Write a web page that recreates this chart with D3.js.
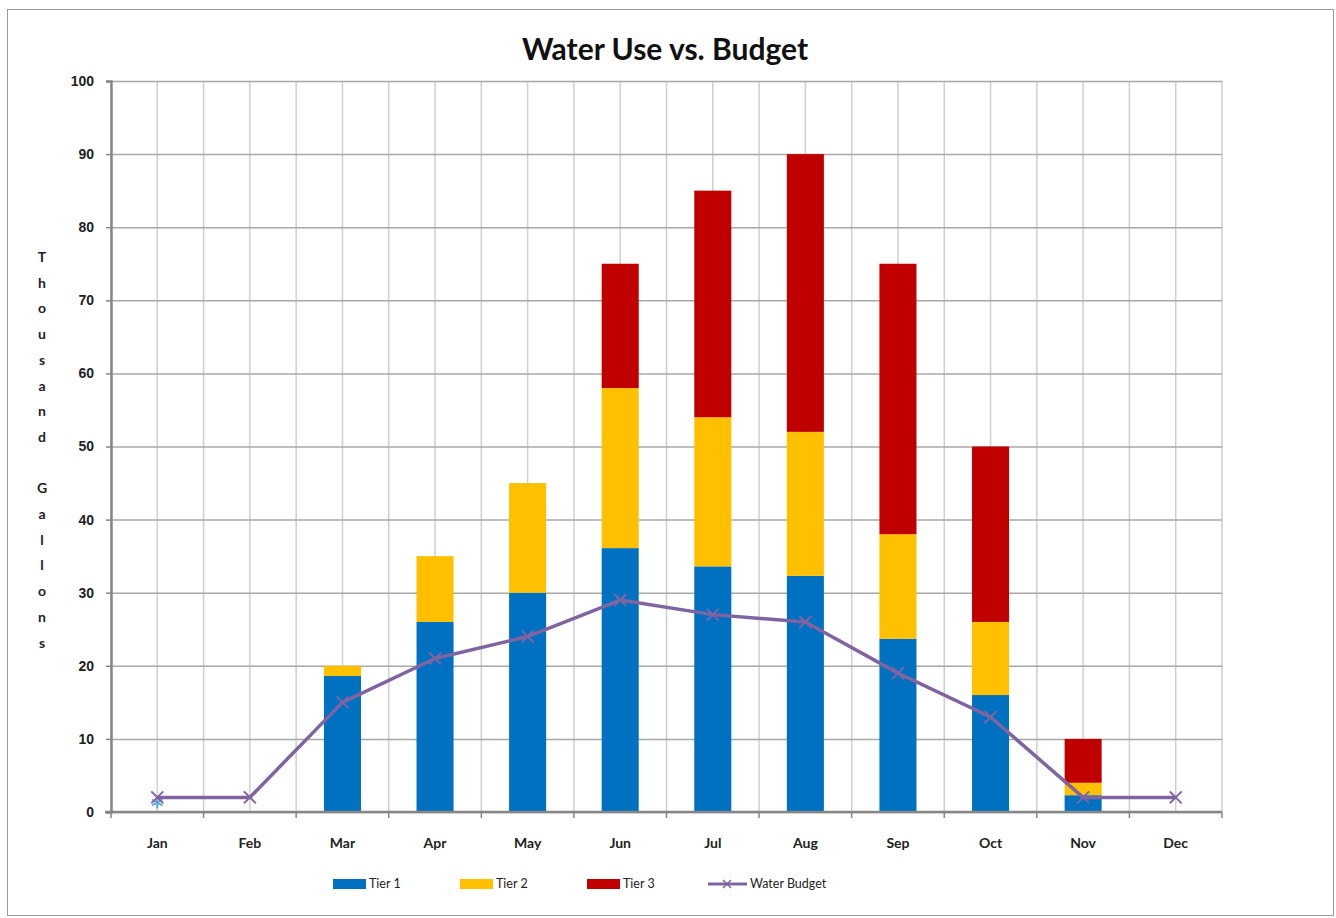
<!DOCTYPE html>
<html>
<head>
<meta charset="utf-8">
<script src="https://cdn.jsdelivr.net/npm/d3@7"></script>
<style>
  body { margin: 0; background: #fff; }
  svg { display: block; font-family: Lato, "Open Sans", sans-serif; }
</style>
</head>
<body>
<svg id="chart"></svg>
<script>
const MONTHS = ["Jan", "Feb", "Mar", "Apr", "May", "Jun", "Jul", "Aug", "Sep", "Oct", "Nov", "Dec"];
const TIER1 = [0, 0, 18.6, 26, 30, 36.1, 33.6, 32.3, 23.7, 16, 2.3, 0];
const TIER2 = [0, 0, 1.4, 9, 15, 21.9, 20.4, 19.7, 14.3, 10, 1.7, 0];
const TIER3 = [0, 0, 0, 0, 0, 17, 31, 38, 37, 24, 6, 0];
const BUDGET = [2, 2, 15, 21, 24, 29, 27, 26, 19, 13, 2, 2];
const STRAY_MARK = [{ month: "Jan", value: 1.3 }];
const Y_TICKS = [0, 10, 20, 30, 40, 50, 60, 70, 80, 90, 100];
const SERIES = ["Tier 1", "Tier 2", "Tier 3"];
const COLORS = ["#0070c0", "#ffc000", "#c00000"];
const LINE_COLOR = "#8064a2";

const width = 1336;
const height = 918;
const marginLeft = 111;
const marginRight = 114;
const marginTop = 81;
const marginBottom = 106;

const svg = d3.select("#chart").attr("width", width).attr("height", height);

// chart frame
svg.append("rect")
  .attr("x", 7.5).attr("y", 9.5)
  .attr("width", 1326).attr("height", 906)
  .attr("fill", "#fff")
  .attr("stroke", "#9a9a9a");

const rows = MONTHS.map((m, i) => ({ month: m, "Tier 1": TIER1[i], "Tier 2": TIER2[i], "Tier 3": TIER3[i] }));

const x = d3.scaleBand()
  .domain(MONTHS)
  .range([marginLeft, width - marginRight])
  .paddingInner(0.6)
  .paddingOuter(0.3);

const xOuter = d3.scaleBand()
  .domain(MONTHS)
  .range([marginLeft, width - marginRight]);

const y = d3.scaleLinear()
  .domain([0, 100])
  .range([height - marginBottom, marginTop]);

const center = (m) => xOuter(m) + xOuter.bandwidth() / 2;

// vertical gridlines at boundaries and category centers
const vLines = [];
MONTHS.forEach((m) => {
  vLines.push(xOuter(m));
  vLines.push(center(m));
});
vLines.push(width - marginRight);
svg.append("g")
  .attr("class", "v-grid")
  .selectAll("line")
  .data(vLines)
  .join("line")
  .attr("x1", (d) => d).attr("x2", (d) => d)
  .attr("y1", marginTop).attr("y2", height - marginBottom)
  .attr("stroke", "#cfcfcf")
  .attr("stroke-width", 1.5);

// horizontal gridlines
svg.append("g")
  .attr("class", "y-grid")
  .attr("transform", `translate(${marginLeft},0)`)
  .call(d3.axisLeft(y).tickValues(Y_TICKS).tickSize(-(width - marginLeft - marginRight)).tickFormat(""))
  .call((g) => g.select(".domain").remove())
  .selectAll(".tick line")
  .attr("stroke", "#a8a8a8")
  .attr("stroke-width", 1.5);

// stacked bars
const stacked = d3.stack().keys(SERIES)(rows);
svg.append("g")
  .attr("class", "bars")
  .selectAll("g")
  .data(stacked)
  .join("g")
  .attr("fill", (_, i) => COLORS[i])
  .selectAll("rect")
  .data((d) => d)
  .join("rect")
  .attr("x", (d) => x(d.data.month))
  .attr("y", (d) => y(d[1]))
  .attr("width", x.bandwidth())
  .attr("height", (d) => y(d[0]) - y(d[1]));

// y axis
svg.append("g")
  .attr("class", "y-axis")
  .attr("transform", `translate(${marginLeft},0)`)
  .call(d3.axisLeft(y).tickValues(Y_TICKS).tickSize(5).tickPadding(12))
  .call((g) => g.select(".domain").attr("stroke", "#868686").attr("stroke-width", 2.5))
  .call((g) => g.selectAll(".tick line").attr("stroke", "#868686").attr("stroke-width", 1.5))
  .selectAll("text")
  .attr("font-size", 14)
  .attr("font-weight", "bold")
  .attr("fill", "#222");

// x axis
const xAxis = svg.append("g")
  .attr("class", "x-axis")
  .attr("transform", `translate(0,${height - marginBottom})`);
xAxis.append("line")
  .attr("x1", marginLeft - 6).attr("x2", width - marginRight)
  .attr("stroke", "#868686").attr("stroke-width", 2.5);
xAxis.selectAll("line.tick")
  .data(vLines.filter((_, i) => i % 2 === 0 || i === vLines.length - 1))
  .join("line")
  .attr("class", "tick")
  .attr("x1", (d) => d).attr("x2", (d) => d)
  .attr("y1", 0).attr("y2", 6)
  .attr("stroke", "#868686").attr("stroke-width", 1.5);
xAxis.selectAll("text")
  .data(MONTHS)
  .join("text")
  .attr("x", (d) => center(d))
  .attr("y", 36)
  .attr("text-anchor", "middle")
  .attr("font-size", 14)
  .attr("font-weight", "bold")
  .attr("fill", "#222")
  .text((d) => d);

// stray marker at Jan
STRAY_MARK.forEach((d) => {
  const g = svg.append("g")
    .attr("transform", `translate(${center(d.month)},${y(d.value)})`)
    .attr("stroke", "#5aa6dc").attr("stroke-width", 2);
  [0, 60, 120].forEach((a) => {
    g.append("line")
      .attr("x1", 0).attr("y1", -6).attr("x2", 0).attr("y2", 6)
      .attr("transform", `rotate(${a})`);
  });
});

// water budget line
const budgetPts = MONTHS.map((m, i) => [center(m), y(BUDGET[i])]);
svg.append("path")
  .attr("d", d3.line()(budgetPts))
  .attr("fill", "none")
  .attr("stroke", LINE_COLOR)
  .attr("stroke-width", 3.5)
  .attr("stroke-linejoin", "round");
svg.append("g")
  .attr("class", "markers")
  .selectAll("path")
  .data(budgetPts)
  .join("path")
  .attr("d", (d) => `M${d[0] - 6},${d[1] - 6}L${d[0] + 6},${d[1] + 6}M${d[0] - 6},${d[1] + 6}L${d[0] + 6},${d[1] - 6}`)
  .attr("stroke", LINE_COLOR)
  .attr("stroke-width", 2);

// title
svg.append("text")
  .attr("x", 665)
  .attr("y", 60)
  .attr("text-anchor", "middle")
  .attr("font-size", 30)
  .attr("font-weight", "bold")
  .attr("fill", "#111")
  .text("Water Use vs. Budget");

// y label, stacked letters
const yLabel = "Thousand Gallons".split("");
svg.append("g")
  .attr("class", "y-label")
  .selectAll("text")
  .data(yLabel)
  .join("text")
  .attr("x", 42)
  .attr("y", (_, i) => 262 + i * 25.7)
  .attr("text-anchor", "middle")
  .attr("font-size", 14)
  .attr("font-weight", "bold")
  .attr("fill", "#222")
  .text((d) => d);

// legend
const legendItems = [
  { name: "Tier 1", color: COLORS[0], x: 333, type: "bar" },
  { name: "Tier 2", color: COLORS[1], x: 460, type: "bar" },
  { name: "Tier 3", color: COLORS[2], x: 587, type: "bar" },
  { name: "Water Budget", color: LINE_COLOR, x: 708, type: "line" },
];
const legend = svg.append("g")
  .attr("class", "legend")
  .selectAll("g")
  .data(legendItems)
  .join("g")
  .attr("transform", (d) => `translate(${d.x},884)`);
legend.filter((d) => d.type === "bar")
  .append("rect")
  .attr("x", 0).attr("y", -5)
  .attr("width", 33).attr("height", 10)
  .attr("fill", (d) => d.color);
const lineItem = legend.filter((d) => d.type === "line");
lineItem.append("line")
  .attr("x1", 0).attr("x2", 39)
  .attr("stroke", (d) => d.color).attr("stroke-width", 3);
lineItem.append("path")
  .attr("d", "M15,-4L23,4M15,4L23,-4")
  .attr("stroke", (d) => d.color).attr("stroke-width", 1.5);
legend.append("text")
  .attr("x", (d) => (d.type === "line" ? 42 : 36))
  .attr("y", 4)
  .attr("font-size", 12.5)
  .attr("fill", "#222")
  .text((d) => d.name);
</script>
</body>
</html>
